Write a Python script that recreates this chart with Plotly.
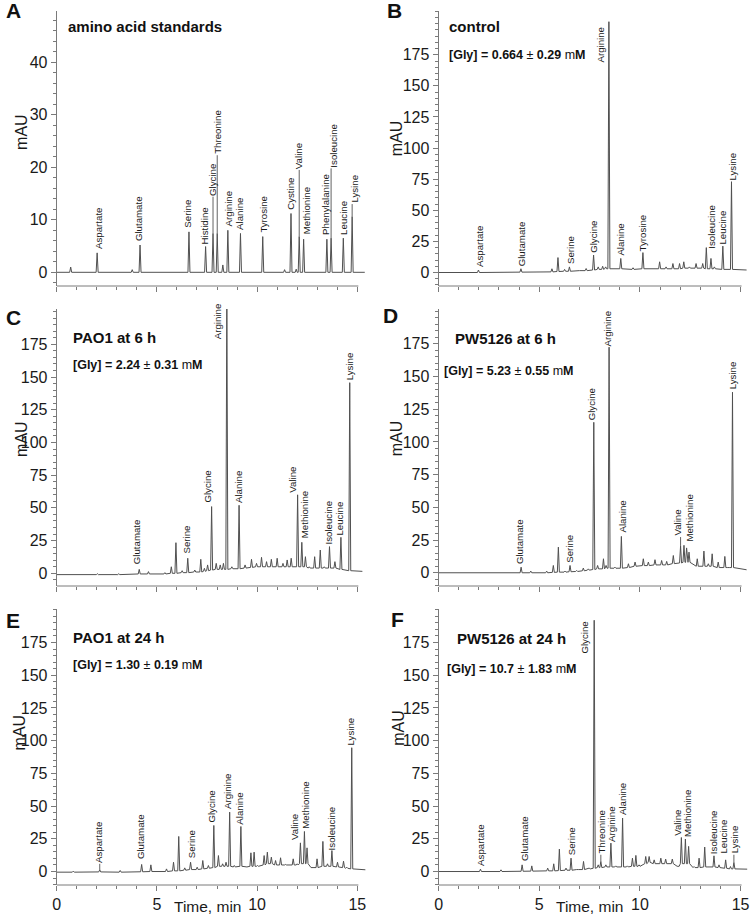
import plotly.graph_objects as go

W, H = 750, 917
FONT = "Liberation Sans, Arial, sans-serif"
TRACE_COLOR = "#505050"
AXIS_COLOR = "#7a7a7a"
HALF_W = 0.05

# ---------------- data ----------------
X_TICKS = [0, 5, 10, 15]
Y_TICKS_A = [0, 10, 20, 30, 40]
Y_TICKS_MAU = [0, 25, 50, 75, 100, 125, 150, 175]

# Panel A: amino acid standards
A_names = ["Aspartate", "Glutamate", "Serine", "Histidine", "Glycine", "Threonine", "Arginine", "Alanine",
           "Tyrosine", "Cystine", "Valine", "Methionine", "Phenylalanine", "Isoleucine", "Leucine", "Lysine"]
A_t = [2.02, 4.16, 6.60, 7.43, 7.80, 8.01, 8.54, 9.17, 10.28, 11.69, 12.10, 12.32, 13.48, 13.69, 14.30, 14.74]
A_h = [3.7, 5.2, 7.7, 4.9, 7.4, 7.4, 8.0, 7.4, 6.8, 11.2, 6.8, 6.3, 6.3, 6.5, 6.5, 10.6]
A_base = [0] * 16
A_lab_x = [2.05, 4.12, 6.55, 7.40, 7.76, 8.03, 8.56, 9.15, 10.30, 11.69, 12.10, 12.45, 13.38, 13.80, 14.30, 14.86]
A_lab_y = [4.3, 5.7, 8.3, 5.2, 14.4, 22.3, 8.6, 7.9, 7.3, 11.7, 19.5, 7.0, 7.0, 19.8, 7.0, 13.0]
A_o_t = [0.70, 3.77, 8.29, 11.37, 11.95]
A_o_h = [1.0, 0.5, 1.4, 0.5, 0.6]
A_o_b = [0, 0, 0, 0, 0]
A_start, A_end_t, A_end_b = 0.0, 15.37, 0.0

# Panel B: control
B_names = ["Aspartate", "Glutamate", "Serine", "Glycine", "Arginine", "Alanine", "Tyrosine",
           "Isoleucine", "Leucine", "Lysine"]
B_t = [1.98, 4.09, 6.50, 7.70, 8.46, 9.05, 10.15, 13.30, 14.12, 14.55]
B_h = [2.0, 3.0, 4.5, 14.0, 201.6, 11.3, 16.0, 20.0, 21.2, 73.0]
B_base = [0, 0.3, 1, 2, 3, 3, 3, 3, 2.5, 2.5]
B_lab_x = [2.01, 4.09, 6.52, 7.69, 8.02, 9.05, 10.15, 13.56, 14.10, 14.60]
B_lab_y = [3.2, 4.5, 5.9, 15.3, 168, 12.6, 16.5, 18.0, 22.0, 73.5]
B_o_t = [0.70, 5.63, 5.93, 6.26, 6.95, 7.33, 7.93, 8.15, 8.30, 9.66, 10.57, 10.98, 11.30, 11.64, 11.97,
         12.18, 12.46, 12.79, 13.12, 13.53, 13.70]
B_o_h = [0.6, 3.0, 12.0, 2.5, 2.0, 3.2, 4.5, 5.0, 4.5, 3.8, 3.2, 8.6, 4.5, 7.2, 7.2, 8.6, 4.5, 7.2, 7.2, 11.3, 4.5]
B_o_b = [0, 0.5, 0.8, 1, 1.5, 1.5, 2.5, 2.5, 3, 2.5, 3, 3, 3, 3, 3, 3.5, 3.5, 3.5, 3.5, 3, 3]
B_start, B_end_t, B_end_b = 0.0, 15.30, 2.0

# Panel C: PAO1 at 6 h
C_names = ["Glutamate", "Serine", "Glycine", "Arginine", "Alanine", "Valine", "Methionine",
           "Isoleucine", "Leucine", "Lysine"]
C_t = [4.12, 6.54, 7.73, 8.49, 9.10, 12.02, 12.23, 13.61, 14.18, 14.62]
C_h = [3.0, 11.5, 51.0, 215.0, 52.0, 60.0, 23.7, 20.4, 27.5, 145.7]
C_base = [-0.5, 0.5, 2.5, 3, 3.5, 5, 5, 4, 3, 2]
C_lab_x = [4.00, 6.48, 7.53, 8.04, 9.10, 11.75, 12.36, 13.56, 14.13, 14.62]
C_lab_y = [6.4, 14.0, 53.0, 178, 53.0, 61.0, 26.0, 21.6, 28.0, 146.5]
C_o_t = [2.03, 3.10, 4.58, 5.40, 5.72, 5.95, 6.26, 6.89, 7.19, 7.37, 7.53, 7.96, 8.16, 8.32, 8.74, 9.40,
         9.72, 9.97, 10.22, 10.47, 10.71, 11.00, 11.29, 11.50, 11.70, 12.41, 12.60, 12.87, 13.15, 13.35, 13.88]
C_o_h = [-0.3, -0.3, 1.3, 0.5, 5.0, 23.4, 2.0, 2.5, 10.7, 3.8, 6.4, 7.6, 6.4, 7.6, 5.0, 6.4,
         10.7, 7.6, 12.2, 8.9, 10.7, 11.5, 7.6, 10.2, 11.5, 12.7, 5.0, 12.7, 17.8, 5.0, 8.9]
C_o_b = [-1, -1, -0.5, -0.5, 0, 0, 0.5, 1, 1, 1.5, 2, 3, 3, 3, 3.5, 4,
         4.5, 5, 5, 5, 5, 5, 5, 5, 5, 5, 4, 4, 4, 4, 4]
C_start, C_end_t, C_end_b = -1.0, 15.25, 1.5

# Panel D: PW5126 at 6 h
D_names = ["Glutamate", "Serine", "Glycine", "Arginine", "Alanine", "Valine", "Methionine", "Lysine"]
D_t = [4.10, 6.53, 7.71, 8.47, 9.08, 12.02, 12.32, 14.60]
D_h = [4.3, 5.6, 115.0, 172.4, 27.8, 20.5, 19.0, 138.0]
D_base = [0, 0.8, 2.5, 3.5, 3.5, 7.5, 8, 4]
D_lab_x = [4.05, 6.53, 7.61, 8.38, 9.15, 11.87, 12.49, 14.60]
D_lab_y = [5.6, 6.9, 115.6, 172.4, 29.8, 27.3, 22.7, 139.8]
D_o_t = [2.00, 3.06, 4.58, 5.37, 5.70, 5.95, 6.28, 6.86, 7.19, 7.44, 7.90, 8.19, 8.32, 8.76, 9.43, 9.76,
         10.17, 10.42, 10.75, 11.08, 11.33, 11.66, 12.19, 12.44, 12.85, 13.18, 13.40, 13.59, 13.89, 14.22, 14.39]
D_o_h = [0.5, 0.5, 1.3, 1.3, 5.6, 19.6, 1.3, 1.8, 3.6, 3.0, 5.6, 10.7, 5.6, 4.3, 6.9, 8.2,
         10.7, 8.2, 10.0, 9.4, 8.7, 13.2, 21.0, 15.8, 10.7, 16.6, 6.9, 14.5, 8.2, 12.5, 4.3]
D_o_b = [0, 0, 0, 0, 0.3, 0.5, 0.5, 1, 1.5, 2, 3, 3, 3.5, 3.5, 4, 5,
         5.5, 5.5, 6, 6, 6, 7, 8, 8, 5, 5, 5, 5, 4, 4, 4]
D_start, D_end_t, D_end_b = 0.0, 15.30, 2.3

# Panel E: PAO1 at 24 h
E_names = ["Aspartate", "Glutamate", "Serine", "Glycine", "Arginine", "Alanine", "Valine", "Methionine",
           "Isoleucine", "Lysine"]
E_t = [2.15, 4.24, 6.68, 7.84, 8.63, 9.19, 12.16, 12.36, 13.73, 14.72]
E_h = [1.3, 5.4, 7.1, 35.2, 45.4, 34.4, 21.9, 30.6, 16.0, 94.6]
E_base = [-0.3, -0.2, 1.5, 3, 4, 4, 6, 6, 4, 2]
E_lab_x = [2.10, 4.16, 6.72, 7.74, 8.53, 9.11, 11.83, 12.41, 13.70, 14.64]
E_lab_y = [5.9, 8.4, 9.7, 36.5, 46.7, 35.2, 23.2, 31.9, 15.6, 95.7]
E_o_t = [0.83, 3.17, 4.70, 5.48, 5.83, 6.09, 6.39, 7.01, 7.29, 7.57, 8.07, 8.28, 8.45, 8.86, 9.44, 9.69,
         9.85, 10.02, 10.35, 10.51, 10.71, 10.92, 11.17, 11.42, 11.80, 12.00, 12.49, 12.74, 12.99, 13.28,
         13.51, 14.01, 14.31, 14.47]
E_o_h = [0.3, 0.8, 5.1, 2.0, 7.1, 26.8, 2.8, 3.3, 8.4, 4.6, 12.2, 5.9, 7.1, 4.6, 3.8, 14.3,
         14.8, 4.6, 12.2, 14.8, 11.0, 8.4, 10.5, 5.4, 9.7, 5.9, 18.1, 3.3, 9.7, 23.0,
         5.9, 7.1, 7.9, 3.3]
E_o_b = [-0.5, -0.5, 0, 0, 0.5, 0.5, 1, 1.5, 2, 2.5, 4, 4, 4, 3.5, 3.5, 4,
         4, 4, 5, 6, 6, 5, 5, 5, 5, 5, 6, 3, 3, 4,
         4, 3.5, 3, 2.5]
E_start, E_end_t, E_end_b = -0.5, 15.43, 1.3

# Panel F: PW5126 at 24 h
F_names = ["Aspartate", "Glutamate", "Serine", "Glycine", "Threonine", "Arginine", "Alanine", "Valine",
           "Methionine", "Isoleucine", "Leucine", "Lysine"]
F_t = [2.08, 4.15, 6.58, 7.73, 8.06, 8.56, 9.14, 12.06, 12.26, 13.68, 14.26, 14.67]
F_h = [1.8, 5.1, 10.2, 192.0, 7.7, 21.7, 40.9, 26.0, 24.8, 12.0, 8.9, 6.9]
F_base = [0, 0.2, 1, 2.5, 3, 3.5, 3.5, 6, 6, 3.5, 2.5, 2]
F_lab_x = [2.05, 4.26, 6.62, 7.24, 8.11, 8.56, 9.15, 11.86, 12.36, 13.65, 14.17, 14.70]
F_lab_y = [3.8, 7.2, 11.5, 166, 12.8, 21.7, 42.2, 26.8, 25.5, 12.8, 12.8, 12.8]
F_o_t = [0.74, 3.10, 4.63, 5.42, 5.72, 6.00, 6.33, 6.91, 7.20, 7.48, 7.93, 8.31, 8.80, 9.38, 9.63, 9.80,
         9.96, 10.29, 10.46, 10.71, 11.04, 11.28, 11.61, 11.90, 12.42, 12.69, 12.94, 13.22, 13.43, 13.93, 14.50]
F_o_h = [0.4, 1.3, 4.3, 2.6, 5.9, 17.1, 2.6, 1.8, 7.7, 2.6, 5.1, 5.1, 4.3, 4.3, 10.2, 12.3,
         5.1, 11.5, 11.5, 8.9, 10.2, 9.5, 9.5, 3.8, 19.2, 3.8, 10.2, 18.7, 3.8, 5.1, 3.8]
F_o_b = [0, 0, 0.3, 0.5, 0.5, 0.7, 1, 1.5, 1.5, 2, 3, 3.5, 3.5, 3.5, 4, 4,
         4, 6, 7, 6, 6, 6, 6, 4, 6, 3, 3, 3.5, 3.5, 3, 2]
F_start, F_end_t, F_end_b = 0.0, 15.33, 1.8

TITLES = ["amino acid standards", "control", "PAO1 at 6 h", "PW5126 at 6 h", "PAO1 at 24 h", "PW5126 at 24 h"]
GLY_MEAN = [None, "0.664", "2.24", "5.23", "1.30", "10.7"]
GLY_SD = [None, "0.29", "0.31", "0.55", "0.19", "1.83"]
LETTERS = ["A", "B", "C", "D", "E", "F"]

# ---------------- layout (pixels) ----------------
def px(x):
    return x / W

def py(y):
    return 1 - y / H

COLS = {"L": (53, 363.8), "R": (437.5, 749.6)}
ROWS = [(11, 286), (309, 586), (609, 885)]
X_RANGE = {"L": [0, 15.4], "R": [0, 15.4]}

panels = [
    dict(L="A", col="L", row=0, yr=[-2.61, 49.77], ticks=Y_TICKS_A, minor=2,
         data=(A_names, A_t, A_h, A_base, A_lab_x, A_lab_y, A_o_t, A_o_h, A_o_b, A_start, A_end_t, A_end_b),
         title=(63, 27), gly=None, letter=(1.5, 11), mau=(17, 132)),
    dict(L="B", col="R", row=0, yr=[-10.85, 210.2], ticks=Y_TICKS_MAU, minor=5,
         data=(B_names, B_t, B_h, B_base, B_lab_x, B_lab_y, B_o_t, B_o_h, B_o_b, B_start, B_end_t, B_end_b),
         title=(446.5, 27), gly=(446.5, 55), letter=(385, 11), mau=(395, 138)),
    dict(L="C", col="L", row=1, yr=[-9.7, 202.0], ticks=Y_TICKS_MAU, minor=5,
         data=(C_names, C_t, C_h, C_base, C_lab_x, C_lab_y, C_o_t, C_o_h, C_o_b, C_start, C_end_t, C_end_b),
         title=(68.5, 337.5), gly=(68.5, 365), letter=(1.5, 317.5), mau=(17, 439)),
    dict(L="D", col="R", row=1, yr=[-10.1, 201.6], ticks=Y_TICKS_MAU, minor=5,
         data=(D_names, D_t, D_h, D_base, D_lab_x, D_lab_y, D_o_t, D_o_h, D_o_b, D_start, D_end_t, D_end_b),
         title=(453.5, 338.5), gly=(442, 370.5), letter=(381, 315), mau=(395, 438)),
    dict(L="E", col="L", row=2, yr=[-10.3, 200.6], ticks=Y_TICKS_MAU, minor=5,
         data=(E_names, E_t, E_h, E_base, E_lab_x, E_lab_y, E_o_t, E_o_h, E_o_b, E_start, E_end_t, E_end_b),
         title=(68.5, 637), gly=(68.5, 665), letter=(1.5, 620), mau=(15.5, 732)),
    dict(L="F", col="R", row=2, yr=[-10.3, 200.6], ticks=Y_TICKS_MAU, minor=5,
         data=(F_names, F_t, F_h, F_base, F_lab_x, F_lab_y, F_o_t, F_o_h, F_o_b, F_start, F_end_t, F_end_b),
         title=(455, 638.5), gly=(445, 668.5), letter=(389, 619), mau=(396.5, 728)),
]

fig = go.Figure()
annotations = []
shapes = []
layout = dict(width=W, height=H, margin=dict(l=0, r=0, t=0, b=0),
              paper_bgcolor="white", plot_bgcolor="white", showlegend=False,
              font=dict(family=FONT, color="#1a1a1a"))

for i, p in enumerate(panels):
    n = i + 1
    sx = "" if n == 1 else str(n)
    xa, ya = "x" + sx, "y" + sx
    (names, t, h, base, lab_x, lab_y, o_t, o_h, o_b, start_b, end_t, end_b) = p["data"]

    # chromatogram trace
    peaks = sorted(zip(list(t) + list(o_t), list(h) + list(o_h), list(base) + list(o_b)))
    xs, ys = [0.0], [start_b]
    for pt, ph, pb in peaks:
        xs += [pt - HALF_W, pt, pt + HALF_W]
        ys += [pb, ph, pb]
    xs.append(end_t)
    ys.append(end_b)
    fig.add_trace(go.Scatter(x=xs, y=ys, mode="lines", xaxis=xa, yaxis=ya,
                             line=dict(color=TRACE_COLOR, width=1), hoverinfo="skip"))

    # leader lines from peak apex to label
    span = p["yr"][1] - p["yr"][0]
    lx, ly = [], []
    for pt, ph, lyv in zip(t, h, lab_y):
        if lyv - ph > 0.02 * span:
            lx += [pt, pt, None]
            ly += [ph, lyv, None]
    if lx:
        fig.add_trace(go.Scatter(x=lx, y=ly, mode="lines", xaxis=xa, yaxis=ya,
                                 line=dict(color=TRACE_COLOR, width=0.9), hoverinfo="skip"))

    # peak labels
    for nm, lxv, lyv in zip(names, lab_x, lab_y):
        annotations.append(dict(x=lxv, y=lyv, xref=xa, yref=ya, text=nm, textangle=-90,
                                xanchor="center", yanchor="bottom", showarrow=False, borderpad=0,
                                font=dict(size=9.7, family=FONT, color="#1a1a1a")))

    c0, c1 = COLS[p["col"]]
    r0, r1 = ROWS[p["row"]]
    bottom = p["row"] == 2
    layout["xaxis" + sx] = dict(domain=[px(c0), px(c1)], range=X_RANGE[p["col"]], anchor=ya,
                                showline=False,
                                ticks="outside", ticklen=5, tickcolor=AXIS_COLOR, tickwidth=1,
                                tickmode="array", tickvals=X_TICKS, ticktext=[str(v) for v in X_TICKS],
                                showticklabels=bottom, showgrid=False, zeroline=False,
                                tickfont=dict(size=16, family=FONT, color="#1a1a1a"),
                                minor=dict(dtick=1, tick0=0, ticks="outside", ticklen=3,
                                           tickcolor=AXIS_COLOR, showgrid=False))
    # x-axis baseline spanning the labelled time range
    shapes.append(dict(type="line", xref=xa, yref=ya + " domain", x0=X_TICKS[0], x1=X_TICKS[-1] + 0.05,
                       y0=0, y1=0, line=dict(color=AXIS_COLOR, width=1)))
    layout["yaxis" + sx] = dict(domain=[py(r1), py(r0)], range=p["yr"], anchor=xa,
                                showline=True, linecolor=AXIS_COLOR, linewidth=1,
                                ticks="outside", ticklen=5, tickcolor=AXIS_COLOR, tickwidth=1,
                                tickmode="array", tickvals=p["ticks"], ticktext=[str(v) for v in p["ticks"]],
                                showgrid=False, zeroline=False,
                                tickfont=dict(size=16, family=FONT, color="#1a1a1a"),
                                minor=dict(dtick=p["minor"], tick0=0, ticks="outside", ticklen=3,
                                           tickcolor=AXIS_COLOR, showgrid=False))

    # panel letter
    lxp, lyp = p["letter"]
    annotations.append(dict(x=px(lxp), y=py(lyp), xref="paper", yref="paper", text="<b>%s</b>" % LETTERS[i],
                            xanchor="left", yanchor="middle", showarrow=False, borderpad=0,
                            font=dict(size=21, family=FONT, color="#111")))
    # title
    tx, ty = p["title"]
    annotations.append(dict(x=px(tx), y=py(ty), xref="paper", yref="paper", text="<b>%s</b>" % TITLES[i],
                            xanchor="left", yanchor="middle", showarrow=False, borderpad=0,
                            font=dict(size=15, family=FONT, color="#111")))
    if p["gly"] is not None:
        gx, gy = p["gly"]
        txt = "<b>[Gly] = %s</b> ± <b>%s</b> m<b>M</b>" % (GLY_MEAN[i], GLY_SD[i])
        annotations.append(dict(x=px(gx), y=py(gy), xref="paper", yref="paper", text=txt,
                                xanchor="left", yanchor="middle", showarrow=False, borderpad=0,
                                font=dict(size=12.5, family=FONT, color="#111")))
    # y-axis title
    mx, my = p["mau"]
    annotations.append(dict(x=px(mx), y=py(my), xref="paper", yref="paper", text="mAU", textangle=-90,
                            xanchor="center", yanchor="middle", showarrow=False, borderpad=0,
                            font=dict(size=16, family=FONT, color="#1a1a1a")))
    if bottom:
        annotations.append(dict(x=px((c0 + c0 + 15 * (c1 - c0) / 15.4) / 2), y=py(906.5), xref="paper",
                                yref="paper", text="Time, min", xanchor="center", yanchor="middle",
                                showarrow=False, borderpad=0,
                                font=dict(size=15.5, family=FONT, color="#1a1a1a")))

layout["annotations"] = annotations
layout["shapes"] = shapes
fig.update_layout(**layout)
fig.write_html("out.html", config={"displayModeBar": False},
               post_script="document.body.style.margin='0';document.body.style.overflow='hidden';")
